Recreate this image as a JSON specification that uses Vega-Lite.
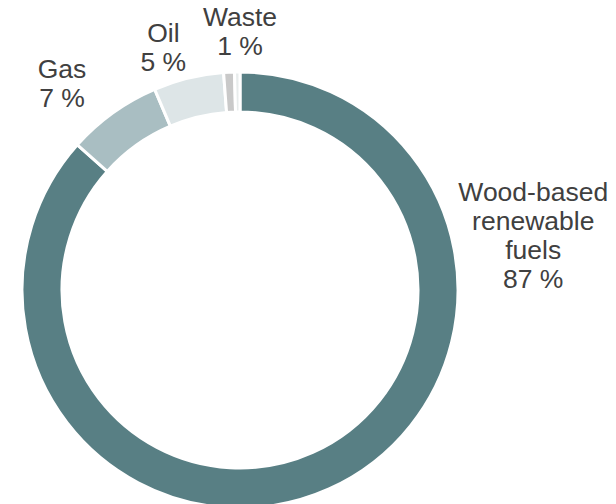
{
  "$schema": "https://vega.github.io/schema/vega-lite/v6.json",
  "width": 616,
  "height": 504,
  "autosize": {"type": "fit", "contains": "padding"},
  "padding": 0,
  "background": "white",
  "config": {
    "view": {"stroke": null},
    "text": {"x": 240, "y": 290, "font": "Liberation Sans", "fontSize": 26.5, "lineHeight": 29, "lineBreak": "\n", "align": "center", "baseline": "middle", "color": "#404040"}
  },
  "data": {
    "values": [
      {"source": "Wood-based renewable fuels", "share": 86.6, "rank": 1, "label": "Wood-based\nrenewable\nfuels\n87 %"},
      {"source": "Gas", "share": 7.0, "rank": 2, "label": "Gas\n7 %"},
      {"source": "Oil", "share": 5.2, "rank": 3, "label": "Oil\n5 %"},
      {"source": "Waste", "share": 0.8, "rank": 4, "label": "Waste\n1 %"},
      {"source": "Other", "share": 0.4, "rank": 5, "label": ""}
    ]
  },
  "layer": [
    {
      "mark": {"type": "arc", "x": 240, "y": 290, "radius": 218, "innerRadius": 178, "stroke": "white", "strokeWidth": 3},
      "encoding": {
        "theta": {"field": "share", "type": "quantitative", "stack": true},
        "order": {"field": "rank", "type": "quantitative"},
        "color": {
          "field": "source",
          "type": "nominal",
          "legend": null,
          "scale": {
            "domain": ["Wood-based renewable fuels", "Gas", "Oil", "Waste", "Other"],
            "range": ["#587f84", "#a9bec2", "#dde5e7", "#c9c9c9", "#e8ecec"]
          }
        }
      }
    },
    {
      "transform": [{"filter": "datum.rank == 1"}],
      "mark": {"type": "text", "radius": 309},
      "encoding": {"text": {"field": "label"}, "theta": {"value": 1.25}}
    },
    {
      "transform": [{"filter": "datum.rank == 2"}],
      "mark": {"type": "text", "radius": 283},
      "encoding": {"text": {"field": "label"}, "theta": {"value": 5.603}}
    },
    {
      "transform": [{"filter": "datum.rank == 3"}],
      "mark": {"type": "text", "radius": 267},
      "encoding": {"text": {"field": "label"}, "theta": {"value": 5.992}}
    },
    {
      "transform": [{"filter": "datum.rank == 4"}],
      "mark": {"type": "text", "radius": 272},
      "encoding": {"text": {"field": "label"}, "theta": {"value": 0}}
    }
  ]
}
